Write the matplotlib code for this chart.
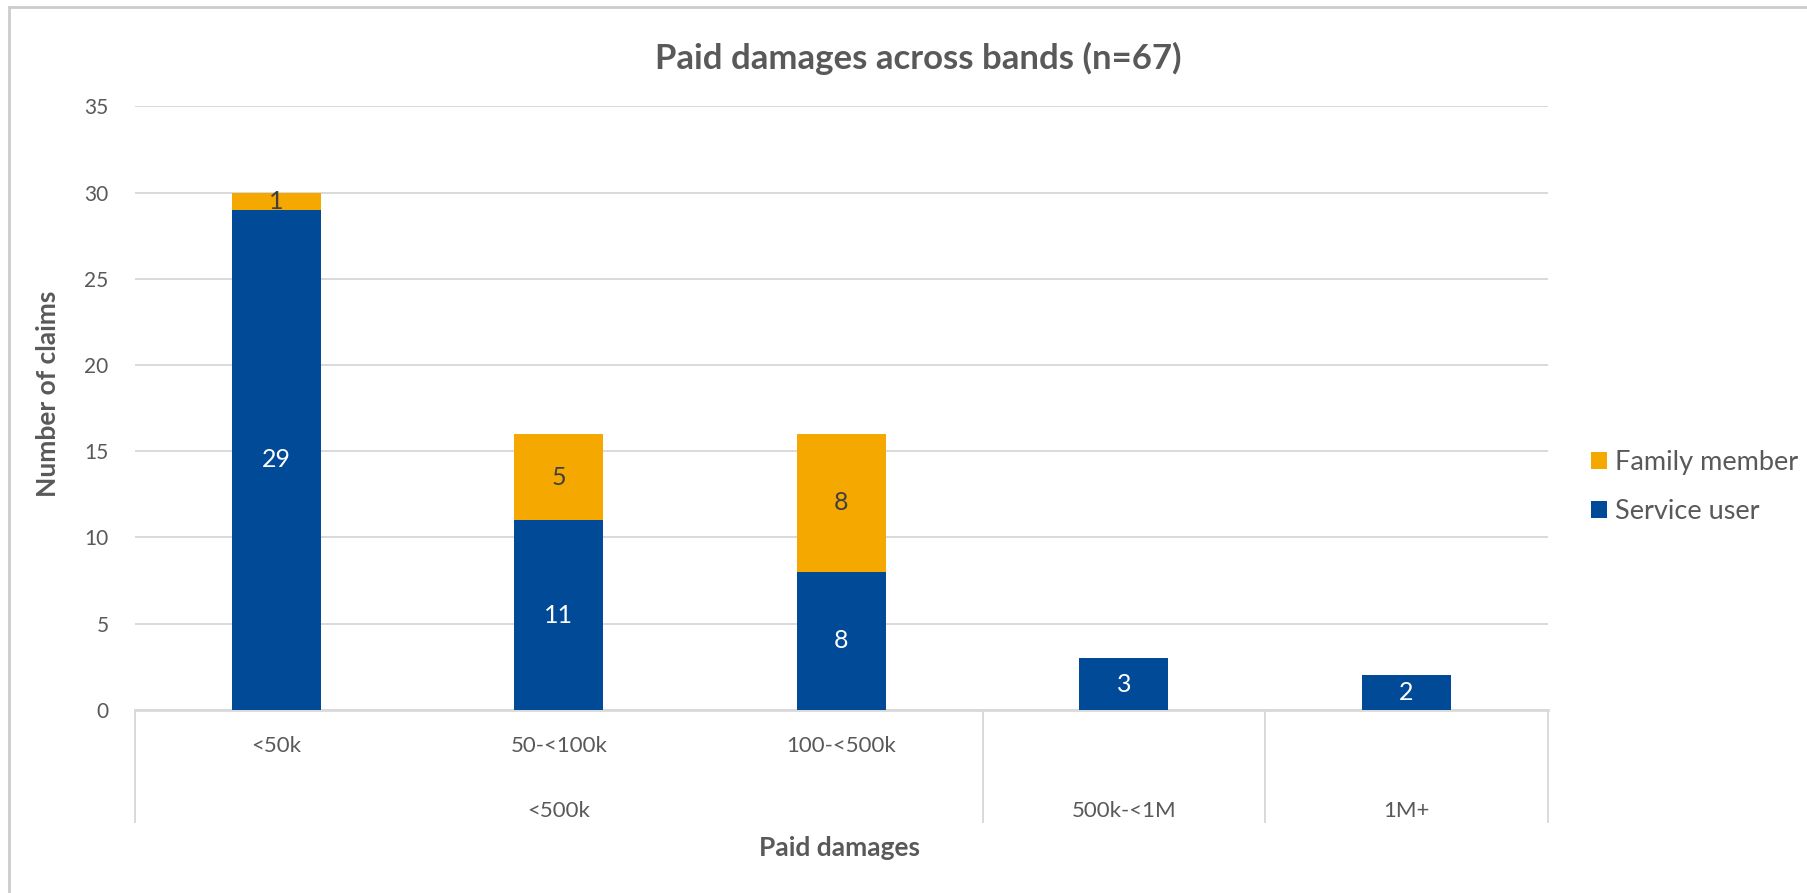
import matplotlib.pyplot as plt
from matplotlib.lines import Line2D

plt.rcParams['font.family'] = ['Lato', 'DejaVu Sans']

# claim counts per paid-damages band (two-level category axis)
sub_labels = ['<50k', '50-<100k', '100-<500k', '', '']
groups = ['<500k', '<500k', '<500k', '500k-<1M', '1M+']
service_user = [29, 11, 8, 3, 2]
family_member = [1, 5, 8, 0, 0]

blue = '#004A98'
orange = '#F5A800'
grey_txt = '#595959'
grid_col = '#D9D9D9'

fig = plt.figure(figsize=(18.08, 8.93), dpi=100)
ax = fig.add_axes([0.0747, 0.205, 0.7813, 0.676])

x = list(range(len(groups)))
w = 0.315
b1 = ax.bar(x, service_user, w, color=blue, label='Service user', zorder=3)
b2 = ax.bar(x, family_member, w, bottom=service_user, color=orange,
            label='Family member', zorder=3)

for i in x:
    s = service_user[i]
    f = family_member[i]
    if s:
        ax.text(i, s / 2, str(s), ha='center', va='center', color='white',
                fontsize=18, zorder=4)
    if f:
        ax.text(i, s + f / 2, str(f), ha='center', va='center', color='#404040',
                fontsize=18, zorder=4)

ax.set_xlim(-0.5, len(groups) - 0.5)
ax.set_ylim(0, 35)
ax.set_yticks(range(0, 36, 5))
ax.yaxis.grid(True, color=grid_col, linewidth=1.4, zorder=0)
ax.tick_params(axis='y', length=0, labelsize=15, labelcolor=grey_txt, pad=19)
ax.tick_params(axis='x', length=0, labelsize=16, labelcolor=grey_txt, pad=19)
ax.set_xticks(x)
ax.set_xticklabels(sub_labels)
for sp in ['top', 'right', 'left']:
    ax.spines[sp].set_visible(False)
ax.spines['bottom'].set_color(grid_col)
ax.spines['bottom'].set_linewidth(2)

# second level of the category axis
seen = []
for g in groups:
    if g not in seen:
        seen.append(g)
for g in seen:
    idx = [i for i, gg in enumerate(groups) if gg == g]
    mid = (idx[0] + idx[-1]) / 2
    ax.text(mid, -0.167, g, transform=ax.get_xaxis_transform(), ha='center',
            va='center', fontsize=16, color=grey_txt)

# separators between groups
bounds = [-0.5] + [i + 0.5 for i in range(len(groups) - 1)
                   if groups[i] != groups[i + 1]] + [len(groups) - 0.5]
for bx in bounds:
    ax.add_line(Line2D([bx, bx], [0, -0.185], transform=ax.get_xaxis_transform(),
                       color=grid_col, linewidth=1.4, clip_on=False))

ax.set_ylabel('Number of claims', fontsize=19, fontweight='bold', color=grey_txt)
ax.yaxis.set_label_coords(-0.053, 0.523)
ax.text(0.499, -0.228, 'Paid damages', transform=ax.transAxes, ha='center',
        va='center', fontsize=19, fontweight='bold', color=grey_txt)

fig.text(0.508, 0.935, 'Paid damages across bands (n=67)', ha='center',
         va='center', fontsize=25, fontweight='bold', color=grey_txt)

fig.legend(handles=[b2, b1], loc='center left', bbox_to_anchor=(0.880, 0.4547),
           frameon=False, fontsize=19.5, labelcolor=grey_txt, handlelength=0.6,
           handleheight=0.6, handletextpad=0.3, labelspacing=0.9, borderpad=0,
           borderaxespad=0)

# chart frame (top and left edges only)
fig.add_artist(Line2D([0.005, 1.0], [0.992, 0.992], transform=fig.transFigure,
                      color='#CCCCCC', linewidth=2))
fig.add_artist(Line2D([0.005, 0.005], [0.0, 0.992], transform=fig.transFigure,
                      color='#CCCCCC', linewidth=2))

fig.savefig('out.png', dpi=100)
